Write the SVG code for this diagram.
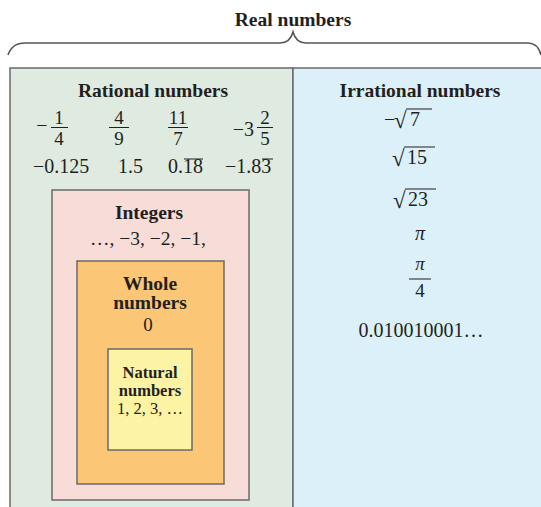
<svg xmlns="http://www.w3.org/2000/svg" width="541" height="507" viewBox="0 0 541 507">
<style>
.t{font-family:"Liberation Serif","DejaVu Serif",serif;fill:#231f20;text-anchor:middle}
.b{font-weight:bold;font-size:19.5px}
.r{font-size:20px}
.f{font-size:19px}
.s{font-size:19px}
.rad{font-size:23px}
.box{stroke:#6a6a6a;stroke-width:1.5}
.ln{stroke:#231f20;stroke-width:1}
</style>
<rect width="541" height="507" fill="#ffffff"/>
<g id="connectors">
<path d="M8,55 Q12,43 25,43 L280,43 Q290,43 293,32 Q296,43 306,43 L528,43 Q538,43 541,55" fill="none" stroke="#555" stroke-width="1.6"/>
</g>
<g id="real">
<text class="t b" x="293" y="26">Real numbers</text>
</g>
<g id="rational">
<rect class="box" x="10" y="68" width="283" height="460" fill="#dfebe0"/>
<text class="t b" x="153" y="97">Rational numbers</text>
<text class="t r" x="42" y="132">−</text>
<text class="t f" x="59" y="124">1</text>
<line class="ln" x1="51" y1="127.5" x2="68" y2="127.5"/>
<text class="t f" x="59" y="145">4</text>
<text class="t f" x="119" y="124">4</text>
<line class="ln" x1="109" y1="127.5" x2="129" y2="127.5"/>
<text class="t f" x="119" y="145">9</text>
<text class="t f" x="178" y="124">11</text>
<line class="ln" x1="168" y1="127.5" x2="188" y2="127.5"/>
<text class="t f" x="178" y="145">7</text>
<text class="t r" x="254" y="136" style="text-anchor:end">−3</text>
<text class="t f" x="265" y="124">2</text>
<line class="ln" x1="257" y1="127.5" x2="273" y2="127.5"/>
<text class="t f" x="265" y="145">5</text>
<text class="t r" x="33" y="173" style="text-anchor:start">−0.125</text>
<text class="t r" x="118" y="173" style="text-anchor:start">1.5</text>
<text class="t r" x="168" y="173" style="text-anchor:start">0.18</text>
<line class="ln" x1="184" y1="159" x2="203" y2="159"/>
<text class="t r" x="225" y="173" style="text-anchor:start">−1.83</text>
<line class="ln" x1="262" y1="159" x2="273" y2="159"/>
</g>
<g id="irrational">
<rect class="box" x="293" y="68" width="260" height="460" fill="#dcf0fa"/>
<text class="t b" x="420" y="97">Irrational numbers</text>
<text class="t r" x="384" y="126" style="text-anchor:start">−</text>
<text class="t rad" x="394" y="128" style="text-anchor:start">√</text>
<text class="t r" x="410" y="126" style="text-anchor:start">7</text>
<line class="ln" x1="406" y1="109" x2="432" y2="109"/>
<text class="t rad" x="392" y="166" style="text-anchor:start">√</text>
<text class="t r" x="407" y="164" style="text-anchor:start">15</text>
<line class="ln" x1="404" y1="147" x2="435" y2="147"/>
<text class="t rad" x="393" y="208" style="text-anchor:start">√</text>
<text class="t r" x="408" y="206" style="text-anchor:start">23</text>
<line class="ln" x1="405" y1="189" x2="436" y2="189"/>
<text class="t r" x="420" y="240" style="font-style:italic">π</text>
<text class="t s" x="420" y="270" style="font-style:italic">π</text>
<line class="ln" x1="409" y1="279" x2="431" y2="279"/>
<text class="t s" x="420" y="297">4</text>
<text class="t r" x="421" y="337">0.010010001…</text>
</g>
<g id="integers">
<rect class="box" x="52" y="190" width="197" height="310" fill="#f8dcd8"/>
<text class="t b" x="149" y="219">Integers</text>
<text class="t r" x="148" y="245" style="font-size:19.5px">…, −3, −2, −1,</text>
</g>
<g id="whole">
<rect class="box" x="77" y="261" width="147" height="223" fill="#fbc676"/>
<text class="t b" x="150" y="290">Whole</text>
<text class="t b" x="150" y="309">numbers</text>
<text class="t r" x="148" y="331" style="font-size:19px">0</text>
</g>
<g id="natural">
<rect class="box" x="108" y="349" width="84" height="101" fill="#fdf3a4"/>
<text class="t b" x="150" y="378" style="font-size:16.5px">Natural</text>
<text class="t b" x="150" y="396" style="font-size:16.5px">numbers</text>
<text class="t" x="150" y="414" style="font-size:16.5px">1, 2, 3, …</text>
</g>
</svg>
